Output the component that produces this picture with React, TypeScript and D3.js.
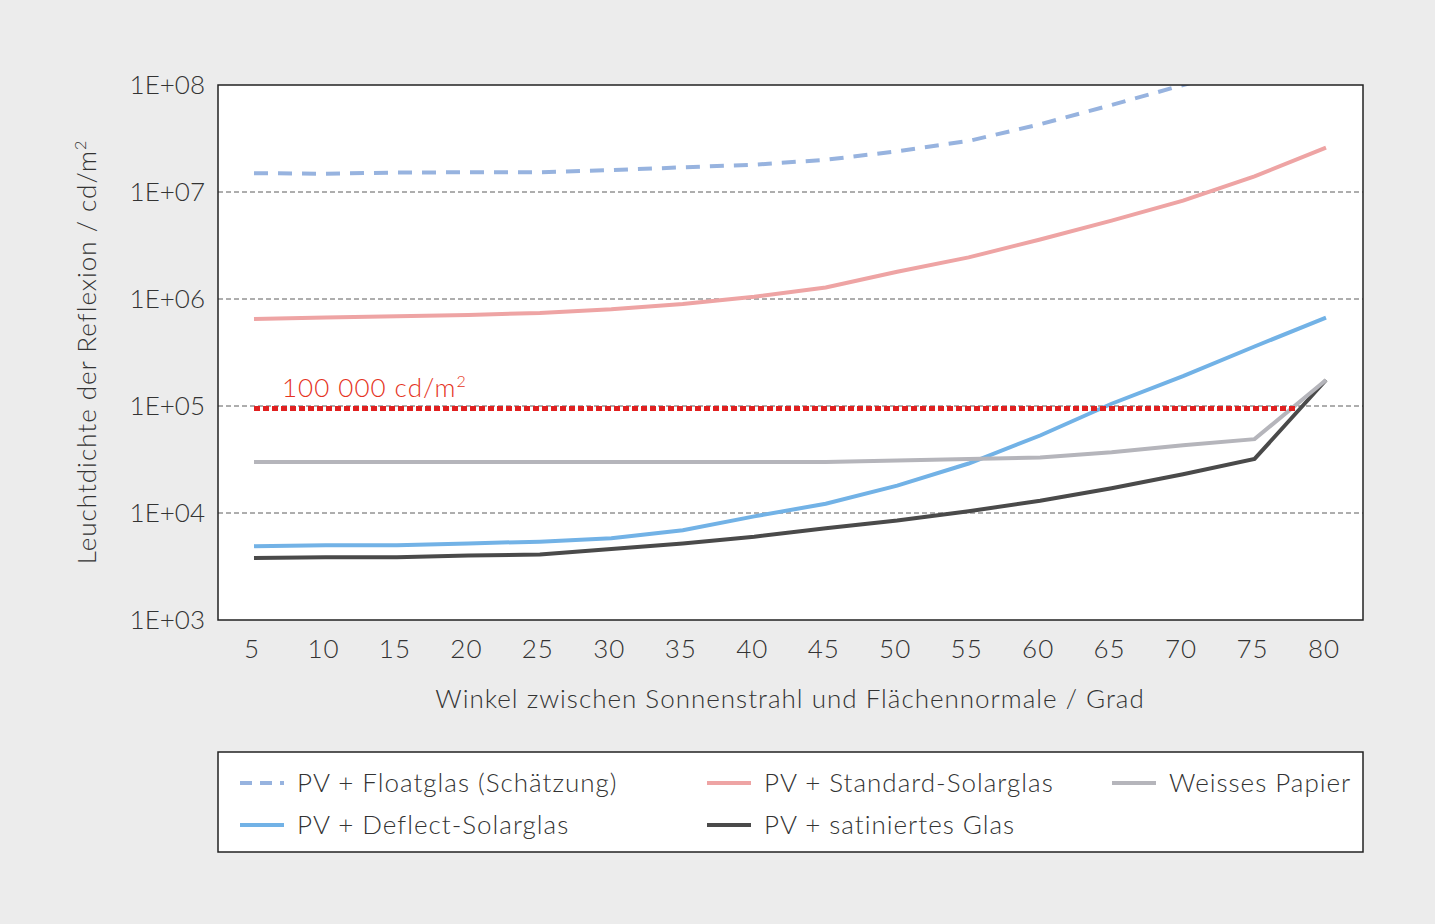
import * as d3 from "d3";

const angles = [5, 10, 15, 20, 25, 30, 35, 40, 45, 50, 55, 60, 65, 70, 75, 80];
const floatglas = [1.5e7, 1.48e7, 1.52e7, 1.53e7, 1.53e7, 1.6e7, 1.7e7, 1.8e7, 2.0e7, 2.4e7, 3.0e7, 4.3e7, 6.5e7, 1.0e8, 1.5e8, 2.4e8];
const standard = [6.5e5, 6.7e5, 6.9e5, 7.1e5, 7.4e5, 8.0e5, 9.0e5, 1.05e6, 1.28e6, 1.8e6, 2.45e6, 3.6e6, 5.4e6, 8.3e6, 1.4e7, 2.6e7];
const deflect = [4.9e3, 5.0e3, 5.0e3, 5.2e3, 5.4e3, 5.8e3, 6.9e3, 9.3e3, 1.22e4, 1.8e4, 2.9e4, 5.3e4, 1.05e5, 1.9e5, 3.6e5, 6.7e5];
const papier = [3e4, 3e4, 3e4, 3e4, 3e4, 3e4, 3e4, 3e4, 3e4, 3.1e4, 3.2e4, 3.3e4, 3.7e4, 4.3e4, 4.9e4, 1.75e5];
const satiniert = [3.8e3, 3.85e3, 3.85e3, 4.0e3, 4.1e3, 4.6e3, 5.2e3, 6.0e3, 7.2e3, 8.5e3, 1.04e4, 1.3e4, 1.7e4, 2.3e4, 3.2e4, 1.75e5];
const yTicks = [1e3, 1e4, 1e5, 1e6, 1e7, 1e8];
const yTickLabels = ["1E+03", "1E+04", "1E+05", "1E+06", "1E+07", "1E+08"];
const threshold = 9.5e4;

const series = [
  { name: "PV + Floatglas (Schätzung)", values: floatglas, color: "#97b3df", dash: "14 10" },
  { name: "PV + Deflect-Solarglas", values: deflect, color: "#72b2e6", dash: "" },
  { name: "PV + Standard-Solarglas", values: standard, color: "#eea4a4", dash: "" },
  { name: "PV + satiniertes Glas", values: satiniert, color: "#4a4a4a", dash: "" },
  { name: "Weisses Papier", values: papier, color: "#b5b5bb", dash: "" },
];
const legendPos = [
  [240, 783], [240, 825], [707, 783], [707, 825], [1112, 783],
];

const L = 218, R = 1363, T = 85, B = 620;
const font = "Lato, 'Open Sans', sans-serif";
const txt = { fontFamily: font, fontWeight: 300, fontSize: 26, fill: "#333", letterSpacing: 1 };

export default function App() {
  const x = d3.scalePoint<number>().domain(angles).range([254, 1326]);
  const xc = (a: number) => x(a) ?? 0;
  const y = d3.scaleLog().domain([1e3, 1e8]).range([B, T]);
  const line = d3.line<number>().x((_, i) => xc(angles[i])).y((v) => y(v));
  return (
    <svg width={1435} height={924} style={{ position: "absolute", left: 0, top: 0, background: "#ececec" }}>
      <defs>
        <clipPath id="plot"><rect x={L} y={T} width={R - L} height={B - T} /></clipPath>
      </defs>
      <rect x={L} y={T} width={R - L} height={B - T} fill="#fff" />
      {yTicks.slice(1, -1).map((t) => (
        <line key={t} x1={L} x2={R} y1={y(t)} y2={y(t)} stroke="#333" strokeDasharray="5 3" strokeWidth={0.8} />
      ))}
      <g clipPath="url(#plot)">
        {series.map((s) => (
          <path key={s.name} d={line(s.values) ?? ""} fill="none" stroke={s.color} strokeWidth={4} strokeDasharray={s.dash} />
        ))}
        <line x1={xc(5)} x2={1295} y1={y(threshold)} y2={y(threshold)} stroke="#e02020" strokeWidth={5} strokeDasharray="6 3" />
      </g>
      <text x={282} y={397} {...txt} fill="#e53222">
        100 000 cd/m<tspan dy={-10} fontSize={16}>2</tspan>
      </text>
      <rect x={L} y={T} width={R - L} height={B - T} fill="none" stroke="#222" strokeWidth={1.5} />
      {yTicks.map((t, i) => (
        <text key={t} x={205} y={y(t) + 9} textAnchor="end" {...txt} letterSpacing={0}>{yTickLabels[i]}</text>
      ))}
      {angles.map((a) => (
        <text key={a} x={xc(a) - 2} y={658} textAnchor="middle" {...txt}>{a}</text>
      ))}
      <text x={790} y={708} textAnchor="middle" {...txt}>Winkel zwischen Sonnenstrahl und Flächennormale / Grad</text>
      <text transform={`translate(96,352) rotate(-90)`} textAnchor="middle" {...txt}>
        Leuchtdichte der Reflexion / cd/m<tspan dy={-10} fontSize={16}>2</tspan>
      </text>
      <rect x={L} y={752} width={R - L} height={100} fill="#fff" stroke="#222" strokeWidth={1.5} />
      {series.map((s, i) => (
        <g key={s.name} transform={`translate(${legendPos[i][0]},${legendPos[i][1]})`}>
          <line x1={0} x2={44} y1={0} y2={0} stroke={s.color} strokeWidth={4} strokeDasharray={s.dash ? "12 8" : ""} />
          <text x={57} y={9} {...txt}>{s.name}</text>
        </g>
      ))}
    </svg>
  );
}
